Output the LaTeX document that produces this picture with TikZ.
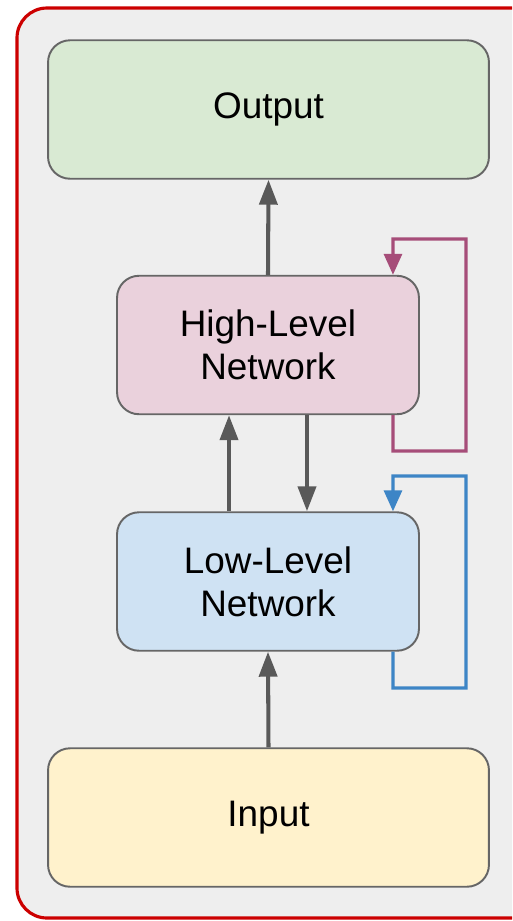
\documentclass[tikz,border=0pt]{standalone}
\usepackage{fontspec}
\setmainfont{Liberation Sans}
\usetikzlibrary{positioning, arrows.meta}

\definecolor{frameRed}{HTML}{CC0000}
\definecolor{bgGray}{HTML}{EEEEEE}
\definecolor{boxGreen}{HTML}{D9EAD3}
\definecolor{boxPink}{HTML}{EAD1DC}
\definecolor{boxBlue}{HTML}{CFE2F3}
\definecolor{boxYellow}{HTML}{FFF2CC}
\definecolor{edgeGray}{HTML}{666666}
\definecolor{arrowGray}{HTML}{595959}
\definecolor{loopPink}{HTML}{A64D79}
\definecolor{loopBlue}{HTML}{3D85C6}

\begin{document}
\begin{tikzpicture}[x=0.02cm, y=-0.02cm,
	block/.style={draw=edgeGray, line width=1.1pt, rounded corners=0.44cm,
		minimum height=2.77cm, align=center,
		font=\fontsize{21}{24.5}\selectfont},
	wide/.style={block, minimum width=8.82cm},
	narrow/.style={block, minimum width=6.04cm},
	flow/.style={draw=arrowGray, line width=2.3pt,
		-{Triangle[length=0.5cm, width=0.36cm]}},
	selfloop/.style={line width=1.8pt,
		-{Triangle[length=0.42cm, width=0.36cm]}}]
	\useasboundingbox (0,0) rectangle (512,921);
	\clip (0,0) rectangle (512,921);
	\draw[frameRed, fill=bgGray, line width=1.8pt, rounded corners=0.6cm]
		(17,8) rectangle (560,918);

	\node[wide, fill=boxGreen] (out) at (268.5,109.5) {Output};
	\node[narrow, fill=boxPink] (hl) at (268,345) {High-Level\\Network};
	\node[narrow, fill=boxBlue] (ll) at (268,581.5) {Low-Level\\Network};
	\node[wide, fill=boxYellow] (in) at (268.5,817.5) {Input};

	\draw[flow] (hl.north) -- (out.south);
	\draw[flow] ([xshift=-0.78cm]ll.north) -- ([xshift=-0.78cm]hl.south);
	\draw[flow] ([xshift=0.78cm]hl.south) -- ([xshift=0.78cm]ll.north);
	\draw[flow] (in.north) -- (ll.south);

	% recurrent connections
	\draw[selfloop, loopPink] ([xshift=2.5cm]hl.south) |- (466,451)
		|- (393,239) -- ([xshift=2.5cm]hl.north);
	\draw[selfloop, loopBlue] ([xshift=2.5cm]ll.south) |- (466,688)
		|- (393,476) -- ([xshift=2.5cm]ll.north);
\end{tikzpicture}
\end{document}
